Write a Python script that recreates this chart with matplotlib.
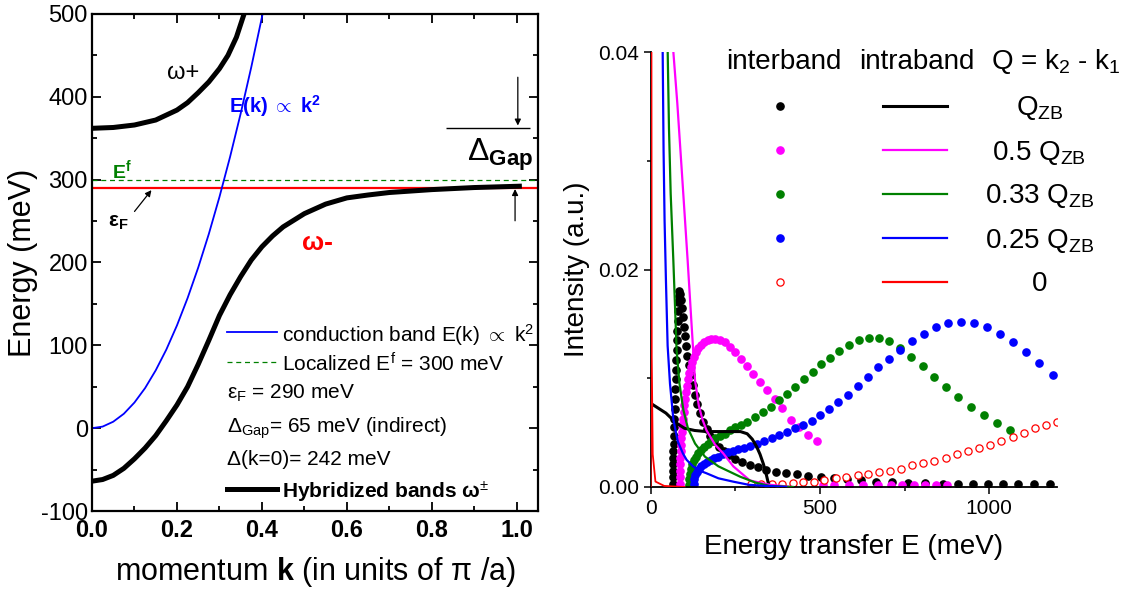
import matplotlib.pyplot as plt
from matplotlib.ticker import MultipleLocator, FormatStrFormatter

plt.rcParams['font.family'] = ['Liberation Sans', 'DejaVu Sans']
plt.rcParams['mathtext.fontset'] = 'custom'
plt.rcParams['mathtext.rm'] = 'Liberation Sans'
plt.rcParams['mathtext.it'] = 'Liberation Sans:italic'
plt.rcParams['mathtext.bf'] = 'Liberation Sans:bold'
plt.rcParams['mathtext.sf'] = 'Liberation Sans'
plt.rcParams['axes.unicode_minus'] = False

# ---------------- left panel: hybridized band structure ----------------
k_cond = [0.0, 0.025, 0.05, 0.075, 0.1, 0.125, 0.15, 0.175, 0.2, 0.225,
          0.25, 0.275, 0.3, 0.325, 0.35, 0.375, 0.4, 0.41]
e_cond = [0.0, 1.9, 7.8, 17.4, 31.0, 48.4, 69.8, 94.9, 124.0, 157.0,
          193.8, 234.4, 279.0, 327.4, 379.8, 435.9, 496.0, 521.1]

k_lower = [0.0, 0.025, 0.05, 0.075, 0.1, 0.125, 0.15, 0.175, 0.2, 0.225,
           0.25, 0.275, 0.3, 0.325, 0.35, 0.375, 0.4, 0.425, 0.45, 0.5,
           0.55, 0.6, 0.65, 0.7, 0.8, 0.9, 1.0, 1.012]
e_lower = [-64.0, -62.0, -57.0, -48.5, -37.0, -24.0, -9.0, 9.0, 28.0, 50.0,
           77.0, 106.0, 136.0, 161.0, 183.0, 203.0, 219.0, 232.0, 243.0, 259.0,
           270.5, 278.0, 281.5, 284.5, 288.0, 290.5, 292.0, 292.2]

k_upper = [0.0, 0.05, 0.1, 0.15, 0.2, 0.225, 0.25, 0.275, 0.3, 0.32, 0.34, 0.358, 0.365]
e_upper = [362.0, 363.0, 366.0, 372.0, 384.0, 393.0, 405.0, 418.0, 434.0, 450.0, 472.0, 500.0, 512.0]

E_f = 300.0      # localized f level
eps_F = 290.0    # Fermi energy

# ---------------- right panel: intensity vs energy transfer ----------------
# intraband (solid lines)
E_intra_zb = [0, 20, 45, 65, 80, 100, 130, 165, 200, 240, 265, 285, 300, 313,
              323, 333, 341, 347, 352]
I_intra_zb = [0.0077, 0.0073, 0.0068, 0.0062, 0.0058, 0.0054, 0.0052, 0.0051,
              0.0051, 0.0051, 0.0051, 0.0049, 0.0044, 0.0037, 0.0030, 0.0021,
              0.0012, 0.0004, 0.0]

E_intra_50 = [67, 78.6, 92, 109, 121, 131, 142, 153, 165, 190, 214, 244, 293, 352, 420]
I_intra_50 = [0.04, 0.0353, 0.029, 0.0209, 0.0148, 0.0098, 0.0075, 0.0062,
              0.0052, 0.0039, 0.0031, 0.0019, 0.0006, 0.0002, 0.0]

E_intra_33 = [50.2, 54, 59, 66.8, 76.7, 85, 96.4, 110, 131, 160, 200, 264, 310, 351, 420]
I_intra_33 = [0.04, 0.033, 0.027, 0.0209, 0.0125, 0.0095, 0.0071, 0.0054,
              0.0040, 0.0028, 0.0019, 0.00095, 0.0004, 0.0001, 0.0]

E_intra_25 = [35.4, 38, 41, 45, 50, 57, 67, 80, 95, 106, 125, 145, 165, 200,
              244, 290, 340, 400]
I_intra_25 = [0.04, 0.031, 0.0245, 0.019, 0.013, 0.0095, 0.0062, 0.0042,
              0.0031, 0.0025, 0.0019, 0.0015, 0.00126, 0.0008, 0.00049,
              0.0002, 0.0001, 0.0]

E_intra_0 = [0, 1, 2, 3, 6, 14, 40, 100]
I_intra_0 = [0.0, 0.05, 0.05, 0.012, 0.003, 0.0005, 0.0001, 0.0]

# interband (symbols)
E_inter_zb = [65, 65.5, 66, 66, 66.5, 67, 67.5, 68, 69, 70, 71, 72, 73, 74, 75,
              76, 77, 78, 79, 80, 81, 82, 83, 85, 87, 89, 91, 94, 97, 100, 104,
              108, 113, 118, 124, 131, 138, 146, 155, 165, 176, 188, 201, 216,
              232, 250, 270, 292, 316, 342, 370, 400, 432, 466, 502, 540, 580,
              622, 666, 712, 760, 810, 862, 908, 953, 997, 1041, 1086, 1132, 1180]
I_inter_zb = [0.0003, 0.0009, 0.0015, 0.0021, 0.0027, 0.0033, 0.0040, 0.0047,
              0.0055, 0.0063, 0.0072, 0.0081, 0.0090, 0.0099, 0.0108, 0.0117,
              0.0126, 0.0135, 0.0144, 0.0153, 0.0162, 0.0170, 0.0176, 0.0180,
              0.0178, 0.0172, 0.0165, 0.0156, 0.0147, 0.0139, 0.0130, 0.0121,
              0.0112, 0.0103, 0.0094, 0.0085, 0.0076, 0.0068, 0.0060, 0.0053,
              0.0047, 0.0042, 0.0037, 0.0033, 0.0029, 0.0026, 0.0023, 0.0020,
              0.0018, 0.0016, 0.0014, 0.0013, 0.0012, 0.0010, 0.0009, 0.0008,
              0.0007, 0.0006, 0.0005, 0.0005, 0.0004, 0.0004, 0.0003, 0.0003,
              0.0003, 0.0003, 0.0003, 0.0003, 0.0003, 0.0003]

E_inter_50 = [86, 86.5, 87, 87.5, 88, 88.5, 89.5, 90.5, 92, 93.5, 95, 97, 99,
              101.5, 104, 107, 110, 114, 118, 123, 128, 134, 141, 149, 158, 168,
              179, 191, 204, 218, 233, 249, 266, 284, 303, 323, 344, 366, 389,
              413, 438, 464, 490,
              508, 541, 585, 628, 671, 709, 741, 779, 811, 844, 876]
I_inter_50 = [0.0003, 0.0009, 0.0015, 0.0021, 0.0027, 0.0033, 0.0039, 0.0045,
              0.0051, 0.0057, 0.0063, 0.0069, 0.0075, 0.0081, 0.0087, 0.0093,
              0.0099, 0.0105, 0.0110, 0.0115, 0.0120, 0.0124, 0.0128, 0.0131,
              0.0133, 0.0135, 0.0136, 0.0136, 0.0135, 0.0133, 0.0129, 0.0124,
              0.0118, 0.0111, 0.0104, 0.0097, 0.0089, 0.0081, 0.0073, 0.0062,
              0.0055, 0.0048, 0.0042,
              0.0002, 0.0002, 0.0002, 0.0002, 0.0002, 0.0002, 0.0002, 0.0002,
              0.0002, 0.0002, 0.0002]

E_inter_33 = [113, 114, 116, 119, 123, 128, 134, 141, 149, 158, 168, 179, 191,
              204, 218, 233, 249, 266, 285, 308, 331, 354, 378, 402, 427, 452,
              478, 504, 530, 557, 585, 614, 644, 674, 705, 737, 770, 804, 838,
              873, 909, 946, 984, 1023, 1062]
I_inter_33 = [0.0002, 0.0007, 0.0012, 0.0017, 0.0021, 0.0025, 0.0028, 0.0031,
              0.0034, 0.0037, 0.0040, 0.0042, 0.0045, 0.0047, 0.0049, 0.0052,
              0.0055, 0.0057, 0.0060, 0.0064, 0.0069, 0.0074, 0.0080, 0.0086,
              0.0092, 0.0099, 0.0106, 0.0113, 0.0119, 0.0125, 0.0131, 0.0135,
              0.0137, 0.0137, 0.0134, 0.0128, 0.0120, 0.0111, 0.0101, 0.0092,
              0.0083, 0.0074, 0.0066, 0.0059, 0.0052]

E_inter_25 = [127, 129, 132, 137, 143, 150, 158, 167, 177, 188, 200, 213, 227,
              242, 258, 275, 293, 313, 335, 357, 380, 403, 427, 451, 476, 501,
              527, 554, 582, 611, 641, 672, 704, 737, 771, 806, 842, 879, 917,
              955, 993, 1031, 1069, 1108, 1147, 1187]
I_inter_25 = [0.0003, 0.0007, 0.0011, 0.0014, 0.0017, 0.0019, 0.0021, 0.0023,
              0.0025, 0.0027, 0.0028, 0.0030, 0.0032, 0.0033, 0.0035, 0.0036,
              0.0038, 0.0040, 0.0042, 0.0045, 0.0048, 0.0051, 0.0054, 0.0057,
              0.0061, 0.0066, 0.0072, 0.0078, 0.0085, 0.0093, 0.0101, 0.0110,
              0.0118, 0.0126, 0.0134, 0.0141, 0.0147, 0.0151, 0.0152, 0.0151,
              0.0147, 0.0141, 0.0133, 0.0124, 0.0114, 0.0103]

E_inter_0 = [297, 327, 357, 387, 421, 451, 481, 511, 546, 578, 611, 643, 675,
             707, 740, 772, 805, 838, 871, 904, 937, 970, 1003, 1036, 1069,
             1102, 1135, 1168, 1200]
I_inter_0 = [0.0003, 0.0003, 0.0003, 0.0003, 0.0004, 0.0005, 0.0005, 0.0006,
             0.0008, 0.0009, 0.0011, 0.0012, 0.0014, 0.0015, 0.0017, 0.0020,
             0.0022, 0.0024, 0.0027, 0.0030, 0.0033, 0.0036, 0.0039, 0.0042,
             0.0046, 0.0050, 0.0054, 0.0057, 0.0060]

series_labels = [r'$\mathregular{Q_{ZB}}$', r'0.5 $\mathregular{Q_{ZB}}$',
                 r'0.33 $\mathregular{Q_{ZB}}$', r'0.25 $\mathregular{Q_{ZB}}$', '0']
series_colors = ['black', '#ff00ff', '#008000', '#0000ff', '#ff0000']


fig = plt.figure(figsize=(11.32, 5.93), dpi=100)

# ---- left axes ----
ax1 = fig.add_axes([92 / 1132, 1 - 511 / 593, 446 / 1132, 497 / 593])
ax1.axhline(E_f, color='#008000', lw=0.9, ls=(0, (4, 3)))
ax1.axhline(eps_F, color='#ff0000', lw=1.6)
ax1.plot(k_cond, e_cond, color='#0000ff', lw=1.3)
ax1.plot(k_lower, e_lower, color='black', lw=3.6, solid_capstyle='butt')
ax1.plot(k_upper, e_upper, color='black', lw=3.6, solid_capstyle='butt')

ax1.set_xlim(0, 1.05)
ax1.set_ylim(-100, 500)
ax1.xaxis.set_major_locator(MultipleLocator(0.2))
ax1.xaxis.set_minor_locator(MultipleLocator(0.1))
ax1.yaxis.set_major_locator(MultipleLocator(100))
ax1.yaxis.set_minor_locator(MultipleLocator(50))
ax1.xaxis.set_major_formatter(FormatStrFormatter('%.1f'))
ax1.tick_params(which='both', direction='in', top=True, right=True, width=1.3)
ax1.tick_params(which='major', length=6.5)
ax1.tick_params(which='minor', length=3.5)
ax1.tick_params(axis='y', labelsize=17, pad=3)
ax1.tick_params(axis='x', labelsize=17, pad=6)
for lbl in ax1.get_xticklabels():
    lbl.set_fontweight('bold')
for sp in ax1.spines.values():
    sp.set_linewidth(1.6)
ax1.set_xlabel(r'momentum $\mathbf{k}$ (in units of π /a)', fontsize=22, labelpad=9)
ax1.set_ylabel('Energy (meV)', fontsize=22, labelpad=2)

# band labels and markers
ax1.text(0.176, 429, 'ω+', fontsize=17, va='center', ha='left')
ax1.text(0.322, 389, r'E(k) $\mathbf{\propto}$ k$^{\mathbf{2}}$', fontsize=14.5,
         fontweight='bold', color='#0000ff', va='center', ha='left')
ax1.text(0.046, 312, r'E$^{\mathbf{f}}$', fontsize=14, fontweight='bold',
         color='#008000', va='center', ha='left')
ax1.text(0.038, 248, r'ε$_{\mathbf{F}}$', fontsize=15, fontweight='bold',
         va='center', ha='left')
ax1.annotate('', xy=(0.144, eps_F), xytext=(0.096, 259),
             arrowprops=dict(arrowstyle='-|>', color='black', lw=0.9, mutation_scale=9))
ax1.text(0.494, 223, 'ω-', fontsize=19, fontweight='bold', color='#ff0000',
         va='center', ha='left')
ax1.text(0.883, 323, r'$\Delta_{\mathbf{Gap}}$', fontsize=23, va='baseline', ha='left')
ax1.hlines(e_upper[0], 0.833, 1.03, color='black', lw=1.0)
ax1.annotate('', xy=(1.0025, e_upper[0]), xytext=(1.0025, 427),
             arrowprops=dict(arrowstyle='-|>', color='black', lw=0.9, mutation_scale=9))
ax1.annotate('', xy=(0.996, e_lower[-2]), xytext=(0.996, 247),
             arrowprops=dict(arrowstyle='-|>', color='black', lw=0.9, mutation_scale=9))

# key for the left panel
row_e = [116, 80, 45.5, 5, -35.4, -73.7]
ax1.plot([0.318, 0.436], [row_e[0]] * 2, color='#0000ff', lw=1.3)
ax1.plot([0.318, 0.436], [row_e[1]] * 2, color='#008000', lw=0.9, ls=(0, (4, 3)))
ax1.plot([0.318, 0.436], [row_e[5]] * 2, color='black', lw=3.6)
key_fs = 15
ax1.text(0.448, row_e[0], r'conduction band E(k) $\propto$ k$^2$', fontsize=key_fs,
         va='center_baseline')
ax1.text(0.448, row_e[1], r'Localized E$^{\mathregular{f}}$ = 300 meV', fontsize=key_fs,
         va='center_baseline')
ax1.text(0.318, row_e[2], r'ε$_{\mathregular{F}}$ = 290 meV', fontsize=key_fs,
         va='center_baseline')
ax1.text(0.318, row_e[3], r'Δ$_{\mathregular{Gap}}$= 65 meV (indirect)', fontsize=key_fs,
         va='center_baseline')
ax1.text(0.318, row_e[4], 'Δ(k=0)= 242 meV', fontsize=key_fs, va='center_baseline')
ax1.text(0.448, row_e[5], r'Hybridized bands ω$^{\pm}$', fontsize=key_fs,
         fontweight='bold', va='center_baseline')

# ---- right axes ----
ax2 = fig.add_axes([650.7 / 1132, 1 - 487 / 593, 406.3 / 1132, 434.7 / 593])
inter = [(E_inter_zb, I_inter_zb), (E_inter_50, I_inter_50), (E_inter_33, I_inter_33),
         (E_inter_25, I_inter_25)]
for (e, i), c in zip(inter, series_colors[:4]):
    ax2.plot(e, i, 'o', ms=5.2, color=c, mec=c, zorder=2)
ax2.plot(E_inter_0, I_inter_0, 'o', ms=5.2, mfc='white', mec='#ff0000', mew=0.9, zorder=2)

intra = [(E_intra_zb, I_intra_zb, 2.2), (E_intra_50, I_intra_50, 1.6),
         (E_intra_33, I_intra_33, 1.6), (E_intra_25, I_intra_25, 1.6),
         (E_intra_0, I_intra_0, 1.3)]
for (e, i, lw), c in zip(intra, series_colors):
    ax2.plot(e, i, '-', color=c, lw=lw, zorder=3)

ax2.set_xlim(0, 1200)
ax2.set_ylim(0, 0.04)
ax2.spines['top'].set_visible(False)
ax2.spines['right'].set_visible(False)
for sp in ('left', 'bottom'):
    ax2.spines[sp].set_linewidth(1.3)
ax2.xaxis.set_major_locator(MultipleLocator(500))
ax2.xaxis.set_minor_locator(MultipleLocator(250))
ax2.yaxis.set_major_locator(MultipleLocator(0.02))
ax2.yaxis.set_minor_locator(MultipleLocator(0.01))
ax2.yaxis.set_major_formatter(FormatStrFormatter('%.2f'))
ax2.tick_params(which='both', direction='out', width=1.1, labelsize=15)
ax2.tick_params(which='major', length=5)
ax2.tick_params(which='minor', length=3)
ax2.set_xlabel('Energy transfer E (meV)', fontsize=20, labelpad=12)
ax2.set_ylabel('Intensity (a.u.)', fontsize=20, labelpad=6)

# table-style key
hdr_fs = 20
ax2.text(222, 0.0385, 'interband', fontsize=hdr_fs, va='baseline')
ax2.text(617, 0.0385, 'intraband', fontsize=hdr_fs, va='baseline')
ax2.text(1005, 0.0385, r'Q = k$_2$ - k$_1$', fontsize=hdr_fs, va='baseline')
row_i = [0.0351, 0.0310, 0.0270, 0.0229, 0.0189]
for n, (y, c, lab) in enumerate(zip(row_i, series_colors, series_labels)):
    if n < 4:
        ax2.plot([381], [y], 'o', ms=5.2, color=c)
    else:
        ax2.plot([381], [y], 'o', ms=5.2, mfc='white', mec=c, mew=0.9)
    ax2.plot([686, 874], [y, y], color=c, lw=2.2 if n == 0 else 1.6)
    ax2.text(1148, y - 0.0009, lab, fontsize=hdr_fs, ha='center', va='baseline')

fig.savefig('out.png', dpi=100)
